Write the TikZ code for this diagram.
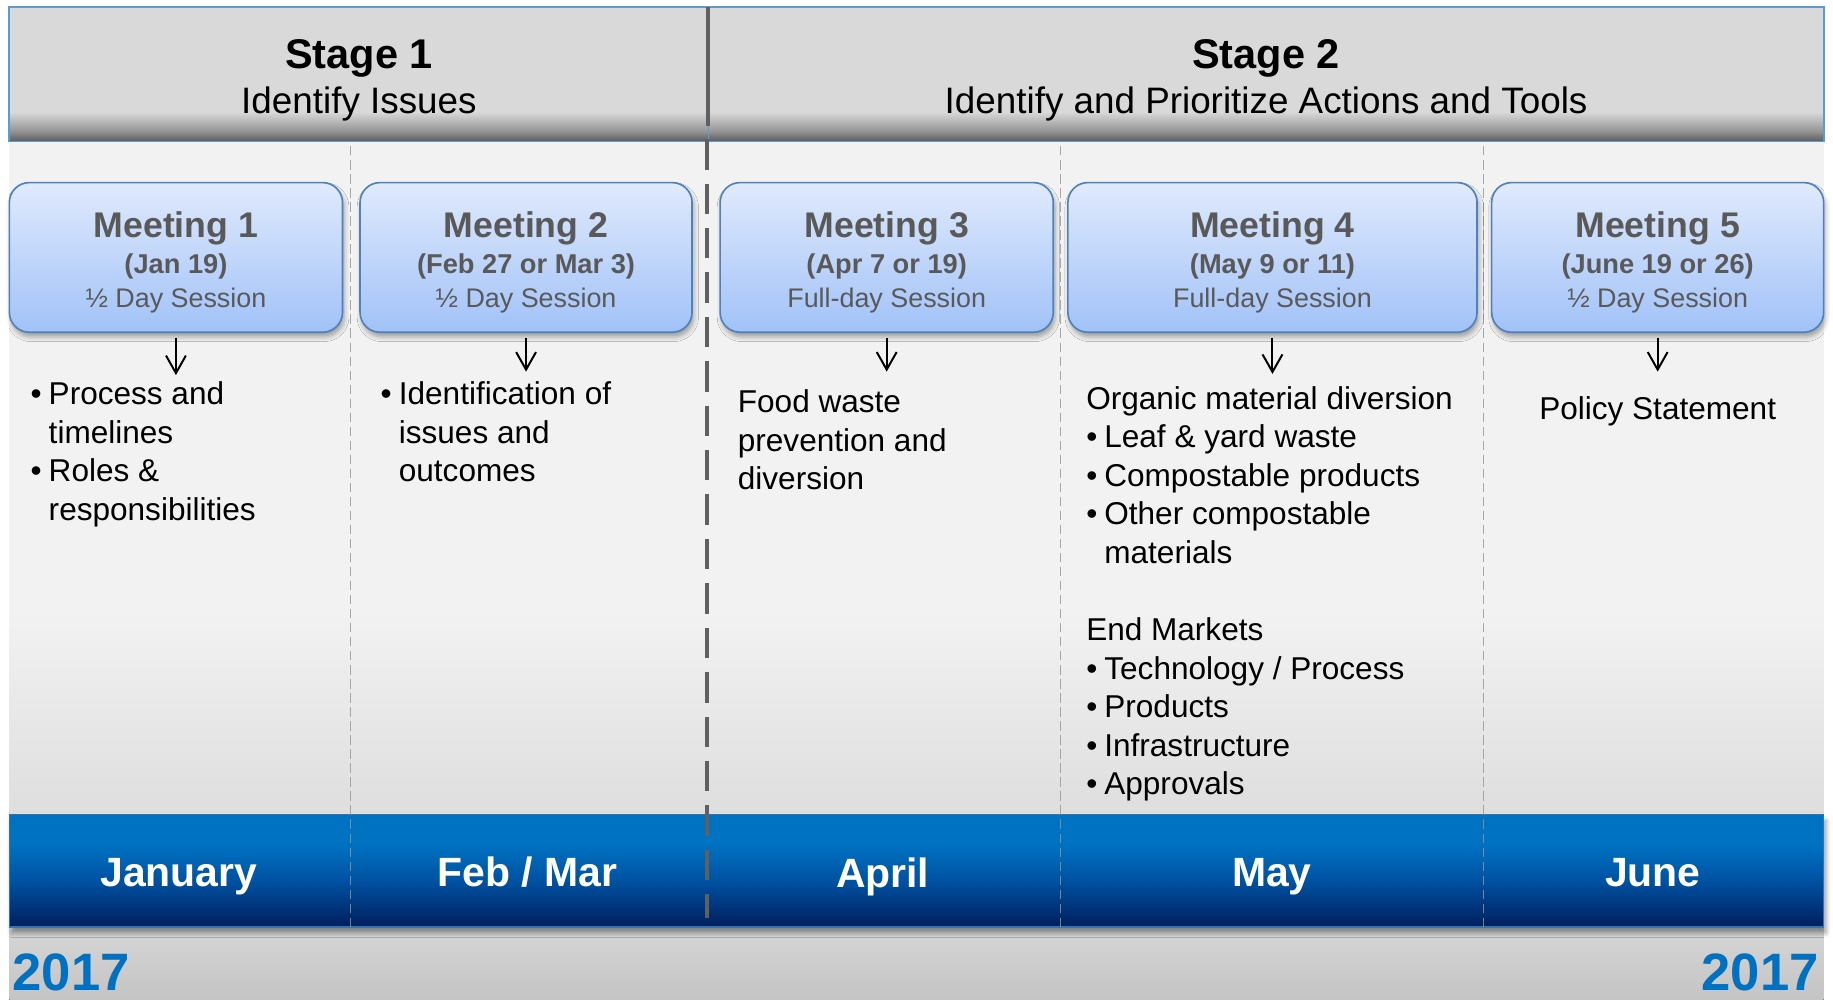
\documentclass[tikz,border=0pt]{standalone}
\usepackage{fontspec}
\setmainfont{Liberation Sans}
\usetikzlibrary{arrows.meta,shadows.blur,positioning}
\definecolor{hdrgray}{RGB}{217,217,217}
\definecolor{hdrdark}{RGB}{92,92,92}
\definecolor{hdrmid}{RGB}{150,150,150}
\definecolor{hdrline}{RGB}{91,155,213}
\definecolor{divgray}{RGB}{96,96,96}
\definecolor{thingray}{RGB}{150,150,150}
\definecolor{bodytop}{RGB}{242,242,242}
\definecolor{bodybot}{RGB}{222,222,222}
\definecolor{foottop}{RGB}{214,214,214}
\definecolor{footbot}{RGB}{196,196,196}
\definecolor{bandtop}{RGB}{0,114,194}
\definecolor{bandmid}{RGB}{0,80,160}
\definecolor{bandbot}{RGB}{0,30,92}
\definecolor{bandline}{RGB}{46,117,182}
\definecolor{meettop}{RGB}{224,234,252}
\definecolor{meetbot}{RGB}{161,194,248}
\definecolor{meetline}{RGB}{79,129,189}
\definecolor{meettext}{RGB}{89,89,89}
\definecolor{yearblue}{RGB}{0,112,192}
\pgfdeclareverticalshading{hdrshade}{100bp}{color(0bp)=(hdrdark); color(25bp)=(hdrdark); color(29bp)=(hdrmid); color(36bp)=(hdrgray); color(100bp)=(hdrgray)}
\pgfdeclareverticalshading{bodyshade}{100bp}{color(0bp)=(bodybot); color(25bp)=(bodybot); color(40bp)=(bodytop); color(100bp)=(bodytop)}
\pgfdeclareverticalshading{bandshade}{100bp}{color(0bp)=(bandbot); color(25bp)=(bandbot); color(45bp)=(bandmid); color(62bp)=(bandtop); color(100bp)=(bandtop)}
\newcommand{\meetlines}[3]{\parbox[t]{270pt}{\centering\fontsize{30.5}{31}\selectfont\bfseries #1\par\fontsize{23.3}{30.8}\selectfont #2\par\fontsize{23}{29}\selectfont\mdseries #3}}
\newcommand{\bul}{\makebox[15.5pt][l]{\textbullet}}
\newcommand{\bulind}{\hspace*{15.5pt}}
\begin{document}
\begin{tikzpicture}[x=1pt,y=-1pt]
  \tikzset{meet/.style={rounded corners=17pt,draw=meetline,line width=1.4pt,top color=meettop,bottom color=meetbot,
      blur shadow={shadow xshift=1.5pt,shadow yshift=-4pt,shadow blur radius=4pt,shadow opacity=35},
      inner sep=0pt,text height=47pt,text depth=81pt,anchor=north,text=meettext},
    body/.style={anchor=base west,inner sep=0pt,font=\fontsize{27}{33}\selectfont},
    arr/.style={line width=1.7pt,-{Straight Barb[length=15pt,width=17pt]},shorten <=4pt},
    stage/.style={anchor=base,inner sep=0pt,font=\fontsize{35.5}{36}\selectfont\bfseries},
    stagesub/.style={anchor=base,inner sep=0pt,font=\fontsize{31.5}{32}\selectfont},
    month/.style={anchor=base,inner sep=0pt,text=white,font=\fontsize{35}{35}\selectfont\bfseries},
    year/.style={inner sep=0pt,text=yearblue,font=\fontsize{45}{45}\selectfont\bfseries},
    thindash/.style={thingray,line width=0.8pt,dash pattern=on 8pt off 4pt,opacity=0.8}}
  \useasboundingbox (0,0) rectangle (1568,855.4);
  \fill[top color=foottop,bottom color=footbot] (8,793) rectangle (1560,855.4);
  \fill[shading=bodyshade] (8,121) rectangle (1560,697);
  \fill[shading=hdrshade] (8,6) rectangle (1560,121);
  \draw[hdrline,line width=1.5pt] (8,6) rectangle (606,121);
  \draw[hdrline,line width=1.5pt] (606,6) rectangle (1560,121);
  \fill[shading=bandshade,blur shadow={shadow xshift=2pt,shadow yshift=-5pt,shadow blur radius=4pt,shadow opacity=40}] (8,697) rectangle (1560,793);
  \draw[bandline,line width=1pt] (8,697) rectangle (1560,793);
  \foreach \x in {300,907,1269} \draw[thindash] (\x,125) -- (\x,793);
  \draw[divgray,line width=3.4pt] (606,6) -- (606,108);
  \draw[divgray,line width=3.4pt,dash pattern=on 26pt off 12pt] (605,119) -- (605,785);
  \node[stage] (s1) at (307,58.5) {Stage 1};
  \node[stagesub] (s1sub) at (307,97) {Identify Issues};
  \node[stage] (s2) at (1083,58.5) {Stage 2};
  \node[stagesub] (s2sub) at (1083,97) {Identify and Prioritize Actions and Tools};
  \node[meet,minimum width=285pt] (m1) at (150.5,155.5) {\meetlines{Meeting 1}{(Jan 19)}{½ Day Session}};
  \node[meet,minimum width=284pt] (m2) at (450,155.5) {\meetlines{Meeting 2}{(Feb 27 or Mar 3)}{½ Day Session}};
  \node[meet,minimum width=285pt] (m3) at (758.5,155.5) {\meetlines{Meeting 3}{(Apr 7 or 19)}{Full-day Session}};
  \node[meet,minimum width=350pt] (m4) at (1088.5,155.5) {\meetlines{Meeting 4}{(May 9 or 11)}{Full-day Session}};
  \node[meet,minimum width=284pt] (m5) at (1418,155.5) {\meetlines{Meeting 5}{(June 19 or 26)}{½ Day Session}};
  \coordinate (e1) at ([yshift=-36pt]m1.south);
  \coordinate (e2) at ([yshift=-33pt]m2.south);
  \coordinate (e3) at ([yshift=-33pt]m3.south);
  \coordinate (e4) at ([yshift=-35pt]m4.south);
  \coordinate (e5) at ([yshift=-33pt]m5.south);
  \draw[arr] (m1) -- (e1);
  \draw[arr] (m2) -- (e2);
  \draw[arr] (m3) -- (e3);
  \draw[arr] (m4) -- (e4);
  \draw[arr] (m5) -- (e5);
  \node[body] (t1) at (26,346) {\parbox[t]{260pt}{\raggedright\bul Process and\\\bulind timelines\\\bul Roles \&\\\bulind responsibilities}};
  \node[body] (t2) at (325.5,346) {\parbox[t]{260pt}{\raggedright\bul Identification of\\\bulind issues and\\\bulind outcomes}};
  \node[body] (t3) at (631,353) {\parbox[t]{260pt}{\raggedright Food waste\\prevention and\\diversion}};
  \node[body] (t4) at (929,350) {\parbox[t]{330pt}{\raggedright Organic material diversion\\\bul Leaf \& yard waste\\\bul Compostable products\\\bul Other compostable\\\bulind materials\\[33pt]End Markets\\\bul Technology / Process\\\bul Products\\\bul Infrastructure\\\bul Approvals}};
  \node[body,anchor=base] (t5) at (1418,359) {Policy Statement};
  \node[month] (jan) at (153,758.5) {January};
  \node[month] (feb) at (451,758.5) {Feb / Mar};
  \node[month] (apr) at (755,759) {April};
  \node[month] (may) at (1088,758.5) {May};
  \node[month] (jun) at (1414,758.5) {June};
  \node[year,anchor=base west] (y1) at (10.5,847) {2017};
  \node[year,anchor=base east] (y2) at (1556,847) {2017};
\end{tikzpicture}
\end{document}
